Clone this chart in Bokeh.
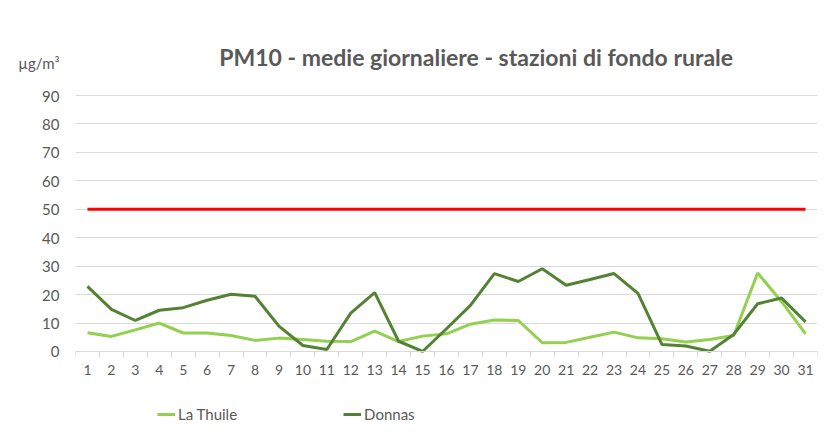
from bokeh.plotting import figure
from bokeh.models import ColumnDataSource, FixedTicker, Label, Legend, LegendItem, Range1d
from bokeh.embed import file_html
from bokeh.resources import INLINE

days = list(range(1, 32))
la_thuile = [6.6, 5.3, 7.6, 10.0, 6.5, 6.5, 5.6, 3.9, 4.7, 4.2, 3.6, 3.5, 7.2, 3.5, 5.4,
             6.2, 9.6, 11.1, 10.9, 3.1, 3.2, 5.0, 6.8, 4.8, 4.5, 3.3, 4.2, 5.6, 27.6, 17.5, 6.2]
donnas = [22.9, 14.8, 10.9, 14.5, 15.4, 18.0, 20.1, 19.4, 8.9, 2.1, 0.7, 13.5, 20.7, 3.6, 0.0,
          8.0, 16.2, 27.4, 24.6, 29.1, 23.3, 25.3, 27.4, 20.4, 2.5, 1.9, 0.1, 6.0, 16.8, 18.8, 10.4]
limit = [50] * 31
y_ticks = [0, 10, 20, 30, 40, 50, 60, 70, 80, 90]
title_text = "PM10 - medie giornaliere - stazioni di fondo rurale"
unit_text = "µg/m³"

src = ColumnDataSource(dict(day=days, lt=la_thuile, dn=donnas, lim=limit))

FONT = "Lato"
GREY = "#595959"
H = 444
UNIT_POS = 101.3  # vertical position of the unit caption, in axis units

p = figure(width=818, height=H, output_backend="svg", toolbar_location=None,
           x_range=Range1d(0.5, 31.5), y_range=Range1d(-32.7, 123.4),
           min_border_left=75, min_border_right=1, min_border_top=0, min_border_bottom=0)
p.outline_line_color = None
p.background_fill_color = "white"
p.border_fill_color = "white"

# category-style x axis sitting at y = 0
p.xaxis.fixed_location = 0
p.xaxis.ticker = FixedTicker(ticks=days, minor_ticks=[d - 0.5 for d in days] + [31.5])
p.xaxis.major_tick_line_color = None
p.xaxis.minor_tick_line_color = "#d9d9d9"
p.xaxis.minor_tick_out = 6
p.xaxis.minor_tick_in = 0
p.xaxis.axis_line_color = "#d9d9d9"
p.xaxis.axis_line_width = 1
p.xaxis.major_label_text_font = FONT
p.xaxis.major_label_text_font_size = "14px"
p.xaxis.major_label_text_color = GREY
p.xaxis.major_label_standoff = 8
p.xgrid.grid_line_color = None

p.yaxis.ticker = FixedTicker(ticks=y_ticks + [UNIT_POS])
p.yaxis.major_label_overrides = {UNIT_POS: unit_text}
p.yaxis.axis_line_color = None
p.yaxis.major_tick_line_color = None
p.yaxis.minor_tick_line_color = None
p.yaxis.major_label_text_font = FONT
p.yaxis.major_label_text_font_size = "15px"
p.yaxis.major_label_text_color = GREY
p.yaxis.major_label_standoff = 10
p.ygrid.ticker = FixedTicker(ticks=y_ticks[1:])
p.ygrid.grid_line_color = "#d9d9d9"
p.ygrid.grid_line_width = 1

r_lim = p.line("day", "lim", source=src, line_color="#ff0000", line_width=3)
r_lt = p.line("day", "lt", source=src, line_color="#92d050", line_width=3)
r_dn = p.line("day", "dn", source=src, line_color="#548235", line_width=3)

p.add_layout(Label(x=17.24, y=103.4, text=title_text,
                   text_align="center", text_baseline="middle", text_font=FONT,
                   text_font_style="bold", text_font_size="23px", text_color=GREY))

legend = Legend(items=[LegendItem(label="La Thuile", renderers=[r_lt]),
                       LegendItem(label="Donnas", renderers=[r_dn])],
                orientation="horizontal", location=(82, 21),
                glyph_width=18, glyph_height=14, label_standoff=3, spacing=106,
                padding=0, margin=0, border_line_color=None, background_fill_alpha=0,
                label_text_font=FONT, label_text_font_size="15px", label_text_color=GREY)
p.add_layout(legend)

open("out.html", "w").write(file_html(p, INLINE))
